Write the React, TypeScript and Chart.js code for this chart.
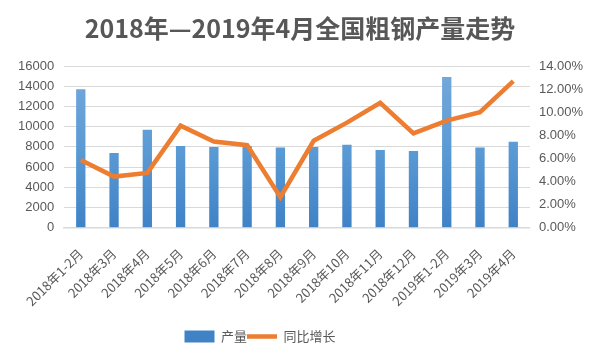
import React, { useEffect, useRef } from "react";
import { Chart, registerables } from "chart.js";

Chart.register(...registerables);

const categories = [
  "2018年1-2月", "2018年3月", "2018年4月", "2018年5月", "2018年6月", "2018年7月", "2018年8月",
  "2018年9月", "2018年10月", "2018年11月", "2018年12月", "2019年1-2月", "2019年3月", "2019年4月",
];
const output = [13700, 7400, 9700, 8100, 8000, 8100, 7950, 8000, 8200, 7700, 7600, 14900, 7950, 8500];
const yoy = [5.86, 4.43, 4.75, 8.84, 7.47, 7.15, 2.65, 7.53, 9.1, 10.82, 8.17, 9.28, 10.0, 12.7];
const leftTicks = [0, 2000, 4000, 6000, 8000, 10000, 12000, 14000, 16000];
const rightTicks = [0, 2, 4, 6, 8, 10, 12, 14];

const legendShift = {
  id: "legendShift",
  afterLayout(chart: any) {
    if (chart.legend) {
      chart.legend.left -= 40;
      chart.legend.right -= 40;
    }
  },
};

export default function App() {
  const ref = useRef<HTMLCanvasElement>(null);
  useEffect(() => {
    document.body.style.margin = "0";
    const ctx = ref.current!.getContext("2d")!;
    const chart = new Chart(ctx, {
      data: {
        labels: categories,
        datasets: [
          {
            type: "line",
            label: "同比增长",
            data: yoy,
            yAxisID: "y1",
            borderColor: "#ED7D31",
            backgroundColor: "#ED7D31",
            borderWidth: 4.5,
            pointRadius: 0,
            tension: 0,
            pointStyle: "line",
            order: 0,
          },
          {
            type: "bar",
            label: "产量",
            data: output,
            yAxisID: "y",
            backgroundColor: (c: any) => {
              const area = c.chart.chartArea;
              if (!area) return "#5B9BD5";
              const g = c.chart.ctx.createLinearGradient(0, area.top, 0, area.bottom);
              g.addColorStop(0, "#76A9DC");
              g.addColorStop(0.5, "#5B9BD5");
              g.addColorStop(1, "#3F82C6");
              return g;
            },
            barPercentage: 0.28,
            categoryPercentage: 1,
            pointStyle: "rect",
            order: 1,
          },
        ],
      } as any,
      options: {
        animation: false,
        responsive: false,
        layout: { padding: { left: 8, right: 6, top: 0, bottom: 5 } },
        plugins: {
          title: {
            display: true,
            text: "2018年—2019年4月全国粗钢产量走势",
            color: "#575757",
            font: { size: 25, weight: "bold", family: "'Noto Sans CJK SC', sans-serif" },
            padding: { top: 13, bottom: 23 },
          },
          legend: {
            position: "bottom",
            reverse: true,
            labels: {
              usePointStyle: true,
              pointStyleWidth: 30,
              boxHeight: 12,
              color: "#595959",
              font: { size: 13, family: "'Noto Sans CJK SC', sans-serif" },
              padding: 0,
            },
          },
          tooltip: { enabled: false },
        },
        scales: {
          x: {
            grid: { display: false },
            border: { color: "#D9D9D9", width: 1.5 },
            ticks: {
              color: "#595959",
              font: { size: 13, family: "'Noto Sans CJK SC', sans-serif" },
              minRotation: 45,
              maxRotation: 45,
              autoSkip: false,
              padding: 10,
            },
            afterFit: (s: any) => { s.height += 11; },
          },
          y: {
            position: "left",
            min: 0,
            max: 16000,
            afterBuildTicks: (s: any) => { s.ticks = leftTicks.map((v) => ({ value: v })); },
            grid: { color: "#D9D9D9", drawTicks: false },
            border: { display: false },
            ticks: {
              color: "#595959",
              font: { size: 13, family: "'Liberation Sans', sans-serif" },
              padding: 10,
              autoSkip: false,
              callback: (v: any) => String(v),
            },
          },
          y1: {
            position: "right",
            min: 0,
            max: 14,
            afterBuildTicks: (s: any) => { s.ticks = rightTicks.map((v) => ({ value: v })); },
            grid: { display: false, drawTicks: false },
            border: { display: false },
            ticks: {
              color: "#595959",
              font: { size: 13, family: "'Liberation Sans', sans-serif" },
              padding: 9,
              autoSkip: false,
              callback: (v: any) => Number(v).toFixed(2) + "%",
            },
          },
        },
      } as any,
      plugins: [legendShift],
    });
    return () => chart.destroy();
  }, []);
  return (
    <div style={{ width: 598, height: 358 }}>
      <canvas ref={ref} width={598} height={358} />
    </div>
  );
}
